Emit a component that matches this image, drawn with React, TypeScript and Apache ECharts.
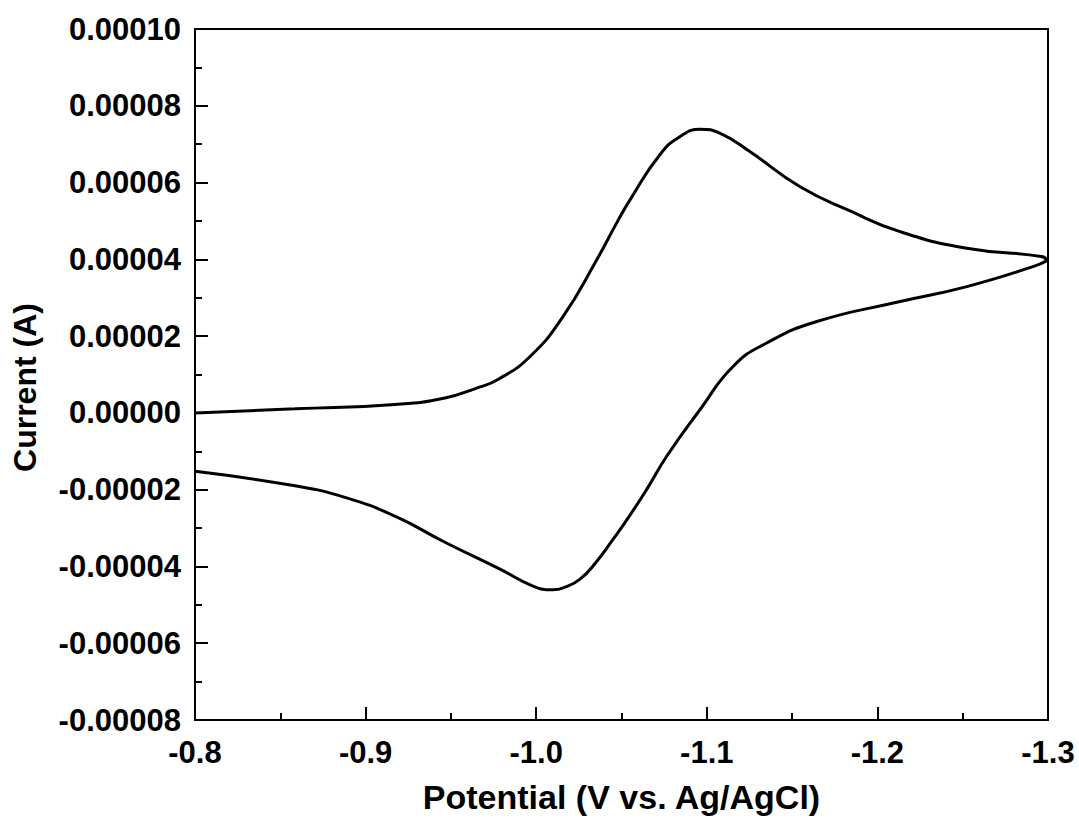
import React, { useEffect, useRef } from "react";
import * as echarts from "echarts";

// Cyclic voltammogram: forward (cathodic) sweep from -0.8 V to -1.3 V
const forwardPotential = [
  -0.8, -0.8586, -0.9172, -0.9465, -0.9659, -0.9776, -0.9964, -1.0157, -1.0355,
  -1.0472, -1.055, -1.0726, -1.0844, -1.0961, -1.1079, -1.1254, -1.1547,
  -1.184, -1.2133, -1.2524, -1.2969, -1.2992,
];
const forwardCurrent = [
  0, 1.05e-6, 2.2e-6, 3.9e-6, 6.6e-6, 8.7e-6, 1.47e-5, 2.51e-5, 3.99e-5,
  4.95e-5, 5.55e-5, 6.73e-5, 7.2e-5, 7.39e-5, 7.28e-5, 6.8e-5, 5.89e-5,
  5.26e-5, 4.72e-5, 4.29e-5, 4.07e-5, 3.96e-5,
];

// Reverse (anodic) sweep from -1.3 V back to -0.8 V
const reversePotential = [
  -1.2992, -1.2912, -1.2524, -1.2133, -1.1645, -1.1351, -1.1154, -1.0961,
  -1.0765, -1.0655, -1.0549, -1.0451, -1.0351, -1.0257, -1.0169, -1.0098, -0.9981,
  -0.9788, -0.9465, -0.9172, -0.8879, -0.8586, -0.8,
];
const reverseCurrent = [
  3.96e-5, 3.81e-5, 3.29e-5, 2.9e-5, 2.38e-5, 1.82e-5, 1.21e-5, 8.8e-7,
  -1.13e-5, -1.94e-5, -2.67e-5, -3.29e-5, -3.89e-5, -4.33e-5, -4.54e-5, -4.61e-5, -4.51e-5,
  -4.07e-5, -3.37e-5, -2.69e-5, -2.2e-5, -1.9e-5, -1.52e-5,
];

const font = "'Liberation Sans', Arial, sans-serif";

export default function App() {
  const ref = useRef<HTMLDivElement>(null);

  useEffect(() => {
    if (!ref.current) return;
    const chart = echarts.init(ref.current, undefined, { renderer: "svg" });
    const pairs = (xs: number[], ys: number[]) => xs.map((x, i) => [x, ys[i]]);
    const lineStyle = { color: "#000", width: 3 };
    const tick = { inside: true, length: 13, lineStyle: { color: "#000", width: 2 } };
    const minor = { show: true, splitNumber: 2, length: 7, lineStyle: { color: "#000", width: 2 } };
    const labelFont = { fontFamily: font, fontWeight: "bold", fontSize: 31, color: "#000" };
    const nameFont = { fontFamily: font, fontWeight: "bold", fontSize: 32, color: "#000" };

    chart.setOption({
      animation: false,
      backgroundColor: "#fff",
      grid: {
        left: 195,
        right: 31,
        top: 29,
        bottom: 98,
        show: true,
        borderColor: "#000",
        borderWidth: 2,
        backgroundColor: "transparent",
      },
      xAxis: {
        type: "value",
        inverse: true,
        min: -1.3,
        max: -0.8,
        interval: 0.1,
        name: "Potential (V vs. Ag/AgCl)",
        nameLocation: "middle",
        nameGap: 60,
        nameTextStyle: { ...nameFont, fontSize: 34 },
        axisLine: { onZero: false, lineStyle: { color: "#000", width: 2 } },
        axisTick: tick,
        minorTick: minor,
        splitLine: { show: false },
        axisLabel: {
          margin: 17,
          ...labelFont,
          formatter: (v: number) => v.toFixed(1),
        },
      },
      yAxis: {
        type: "value",
        min: -0.00008,
        max: 0.0001,
        interval: 0.00002,
        name: "Current (A)",
        nameLocation: "middle",
        nameGap: 154,
        nameTextStyle: { ...nameFont, padding: [0, 26, 0, 0] },
        axisLine: { onZero: false, lineStyle: { color: "#000", width: 2 } },
        axisTick: tick,
        minorTick: minor,
        splitLine: { show: false },
        axisLabel: {
          margin: 14,
          ...labelFont,
          formatter: (v: number) => v.toFixed(5),
        },
      },
      series: [
        {
          name: "forward",
          type: "line",
          data: pairs(forwardPotential, forwardCurrent),
          smooth: 0.5,
          showSymbol: false,
          lineStyle,
        },
        {
          name: "reverse",
          type: "line",
          data: pairs(reversePotential, reverseCurrent),
          smooth: 0.5,
          showSymbol: false,
          lineStyle,
        },
      ],
    });

    return () => chart.dispose();
  }, []);

  return (
    <div
      ref={ref}
      style={{ position: "fixed", left: 0, top: 0, width: 1079, height: 819, background: "#fff" }}
    />
  );
}
